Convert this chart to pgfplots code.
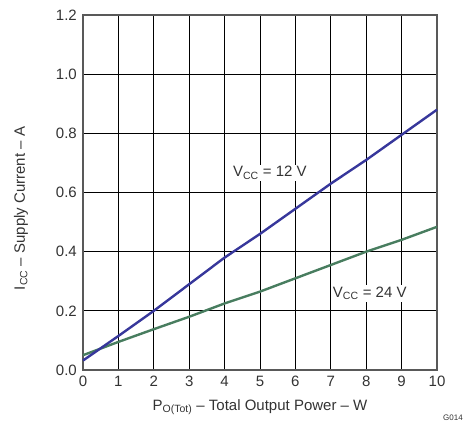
\documentclass[border=0pt]{standalone}
\usepackage{fontspec}
\setmainfont{Liberation Sans}
\usepackage{pgfplots}
\pgfplotsset{compat=1.18}
\definecolor{c12}{RGB}{55,55,155}
\definecolor{c24}{RGB}{72,125,95}
\begin{document}
\fontsize{15}{17}\selectfont
\begin{tikzpicture}
\path[use as bounding box] (-83pt,-56pt) rectangle (382pt,370pt);
\begin{axis}[
  at={(0,0)}, anchor=south west,
  scale only axis, width=354pt, height=355pt,
  xmin=0, xmax=10, ymin=0, ymax=1.2,
  xtick={0,1,2,3,4,5,6,7,8,9,10},
  xticklabels={0,1,2,3,4,5,6,7,8,9,10},
  ytick={0,0.2,0.4,0.6,0.8,1.0,1.2},
  yticklabels={0.0,0.2,0.4,0.6,0.8,1.0,1.2},
  major tick length=0pt,
  grid=major,
  grid style={black, line width=0.8pt},
  axis line style={draw=black!65, line width=1.6pt},
  tick label style={font=\fontsize{15}{17}\selectfont, color=black!80},
  xticklabel style={yshift=-1pt},
  yticklabel style={xshift=-1pt},
  xlabel={P\textsubscript{O(Tot)} – Total Output Power – W},
  ylabel={I\textsubscript{CC} – Supply Current – A},
  label style={font=\fontsize{15}{17}\selectfont, color=black!80},
  xlabel style={at={(rel axis cs:0.5,-0.105)}, anchor=center},
  ylabel style={at={(rel axis cs:-0.175,0.455)}, anchor=center},
  clip=false,
]
\addplot[c24, line width=2.4pt] coordinates {(0,0.05) (1,0.095) (2,0.138) (3,0.18) (4,0.225) (5,0.265) (6,0.31) (7,0.355) (8,0.4) (9,0.44) (10,0.484)};
\addplot[c12, line width=2.4pt] coordinates {(0,0.032) (1,0.115) (2,0.2) (3,0.29) (4,0.38) (5,0.46) (6,0.545) (7,0.63) (8,0.71) (9,0.795) (10,0.88)};
\node[fill=white, inner sep=2pt, text=black!80] at (axis cs:5.28,0.666) {V\textsubscript{CC} = 12 V};
\node[fill=white, inner sep=2pt, text=black!80] at (axis cs:8.1,0.26) {V\textsubscript{CC} = 24 V};
\node[anchor=east, inner sep=1pt, font=\fontsize{8}{9}\selectfont, text=black!80] at (381pt,-48pt) {G014};
\end{axis}
\end{tikzpicture}
\end{document}
